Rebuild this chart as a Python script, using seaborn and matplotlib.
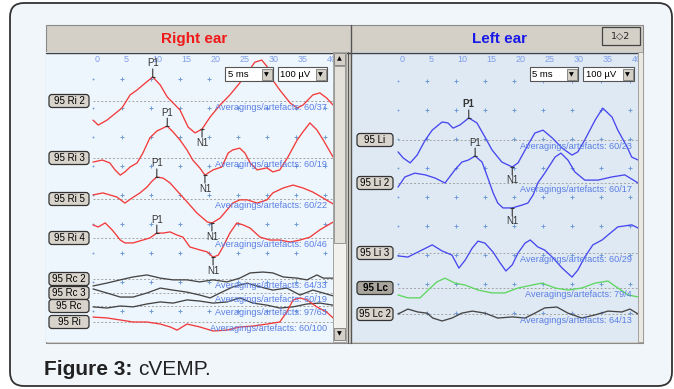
import numpy as np
import matplotlib
matplotlib.use("Agg")
import matplotlib.pyplot as plt
from matplotlib.patches import FancyBboxPatch, Rectangle
import seaborn as sns

sns.set_theme(style="white")
plt.rcParams['font.family'] = ['Liberation Sans', 'DejaVu Sans']

# ------------------------------
# Data: latency (ms) and amplitude (uV)
# ------------------------------
ri2_t = [0, 0.9, 2.4, 5.0, 6.4, 7.6, 8.6, 10.3, 11.6, 12.8, 15.0, 16.4, 17.6, 18.8, 20.2, 21.9, 23.6, 25.3, 26.6, 27.9,
         29.1, 30.2, 31.0, 32.2, 34.0, 35.2, 36.2, 37.9, 39.1, 40.3, 41.4]
ri2_v = [-66, -83, -66, -24, 21, 38, 55, 83, 55, 14, -31, -90, -110, -97, -55, -14, 21, 62, 97, 134,
         141, 114, 72, 38, -7, -24, -14, 21, 28, 10, -14]

ri3_t = [0, 1.6, 2.9, 3.8, 4.7, 5.5, 6.4, 7.6, 8.6, 9.8, 11.0, 12.8, 13.8, 15.0, 16.2, 17.2, 18.4, 19.3, 20.7, 22.2,
         23.3, 24.1, 25.3, 26.2, 27.1, 28.3, 30.0, 31.0, 32.2, 33.6, 35.2, 36.2, 37.4, 38.6, 39.7, 41.4]
ri3_v = [-14, -7, -17, -41, -59, -48, -31, -17, 17, 69, 93, 110, 90, 62, 28, -7, -34, -59, -41, -31,
         17, 28, 34, 17, -17, -41, -34, -48, -41, 3, 62, 90, 121, 97, 62, 3]

ri5_t = [0, 1.7, 2.9, 4.1, 5.5, 6.7, 8.1, 9.3, 10.2, 11.0, 12.1, 13.3, 14.5, 16.4, 17.9, 19.7, 20.5, 21.9, 23.1, 24.1,
         25.3, 26.6, 28.3, 30.0, 31.0, 32.8, 34.5, 36.2, 37.9, 39.7, 41.4]
ri5_v = [14, 21, 14, 7, -14, 3, 21, 41, 62, 76, 72, 55, 28, -14, -48, -79, -83, -66, -38, -14,
         -3, -3, -14, -3, 21, 38, 48, 38, 24, 3, -17]

ri4_t = [0, 0.9, 2.1, 3.3, 4.7, 5.5, 6.9, 8.6, 9.8, 11.0, 12.1, 13.3, 14.5, 15.5, 16.7, 18.4, 19.7, 20.7, 21.6, 22.4,
         23.6, 24.8, 25.9, 27.1, 28.8, 30.5, 32.2, 34.0, 35.7, 37.4, 39.1, 41.4]
ri4_v = [45, 38, 52, 28, -7, -17, -17, -7, 0, 17, 17, 21, 10, 3, -31, -41, -48, -66, -59, -31,
         17, 52, 45, 34, 3, -7, -7, -14, -7, 3, 28, 55]

rc2_t = [0, 2.4, 4.7, 6.9, 9.3, 11.6, 13.8, 16.2, 18.4, 20.7, 23.1, 25.3, 27.1, 29.3, 31.0, 32.8, 35.2, 36.9, 38.6, 39.7, 41.4]
rc2_v = [-24, -14, -3, 7, 14, 3, -3, -3, -10, -3, -10, 3, 21, 24, 21, 7, 3, -3, 14, 3, 3]

rc3_t = [0, 2.4, 4.7, 6.9, 9.3, 11.6, 13.8, 16.2, 18.4, 20.2, 21.9, 24.1, 26.6, 28.8, 31.0, 33.4, 35.7, 37.9, 39.7, 41.4]
rc3_v = [14, 0, -14, -14, 0, 17, 10, 3, -7, -17, 0, 21, 34, 21, 10, 17, -7, 10, 0, -10]

rc_t = [0, 2.4, 4.7, 6.9, 9.3, 11.6, 13.8, 16.2, 18.4, 20.7, 23.1, 25.3, 27.6, 30.0, 32.2, 34.5, 36.9, 39.1, 41.4]
rc_v = [-3, -7, 0, -3, 7, 14, 10, 21, 17, 10, 14, 28, 10, 3, -7, -3, 7, 10, 3]

ri_t = [0, 2.4, 4.7, 6.9, 9.3, 11.6, 13.3, 14.5, 16.2, 18.4, 20.7, 23.1, 25.3, 27.6, 30.0, 32.2, 33.4, 34.5, 35.7, 36.9,
        38.6, 40.3, 41.4]
ri_v = [17, 14, 7, 0, 0, -7, -17, -28, -7, -17, -31, -28, -17, -14, -7, 0, 34, 76, 83, 76, 52, 34, 14]

li_t = [0, 0.9, 2.1, 3.3, 4.7, 5.9, 7.6, 8.6, 9.5, 10.7, 12.2, 13.6, 15.0, 16.2, 17.9, 19.7, 20.7, 22.2, 23.6, 25.0,
        26.6, 28.3, 30.0, 31.0, 32.2, 34.0, 35.3, 36.9, 37.9, 39.5, 40.3, 41.4]
li_v = [-41, -62, -79, -52, 0, 34, 62, 59, 41, 52, 76, 59, 10, -34, -76, -93, -79, -24, 24, 34,
        7, -28, -52, -41, 0, 69, 110, 79, 34, -24, -59, -69]

li2_t = [0, 1.2, 2.9, 4.7, 6.4, 8.1, 9.8, 11.0, 12.1, 13.3, 14.5, 15.5, 16.4, 17.2, 18.1, 19.7, 21.4, 22.4, 23.3, 24.1,
         25.3, 27.1, 28.1, 29.3, 30.5, 32.2, 34.5, 36.9, 39.1, 41.4]
li2_v = [-14, 21, 34, 28, 17, 0, 45, 72, 79, 93, 72, 17, -34, -69, -86, -86, -76, -69, -41, 0,
         34, 90, 103, 79, 38, 10, 10, 21, 28, 0]

li3_t = [0, 1.7, 3.4, 5.9, 7.6, 9.3, 10.5, 11.6, 12.8, 13.8, 15.0, 16.4, 17.6, 18.6, 19.7, 20.7, 21.9, 22.8, 24.1, 25.3,
         26.6, 28.3, 30.0, 31.0, 32.2, 33.6, 35.2, 36.2, 37.9, 40.3, 41.4]
li3_v = [-10, -14, 3, 28, 7, -7, -52, -24, 17, 41, 34, 3, -34, -62, -41, 0, 34, 45, 21, 10,
         -14, -52, -83, -59, -14, 28, 45, 62, 90, 97, 86]

lc_t = [0, 1.7, 3.8, 5.2, 6.7, 8.1, 9.8, 11.6, 13.8, 16.2, 18.4, 20.7, 23.1, 24.8, 27.1, 29.3, 31.7, 34.0, 36.2, 37.9, 39.7, 41.4]
lc_v = [-24, -34, -34, -7, 21, 34, 17, 10, -7, -17, -17, 0, 10, 17, 0, -7, 0, 17, 24, 0, -24, -31]

lc2_t = [0, 1.7, 3.4, 5.0, 6.0, 7.6, 9.3, 11.0, 12.8, 15.0, 17.2, 19.7, 21.9, 23.6, 25.3, 27.4, 29.3, 31.7, 34.0, 36.2,
         38.6, 40.0, 41.4]
lc2_v = [0, 17, 7, 3, -14, -24, -14, 3, 10, 3, -14, -10, -14, 3, 21, 24, 3, -14, -3, 10, 7, 17, 0]

right_names = ["95 Ri 2", "95 Ri 3", "95 Ri 5", "95 Ri 4", "95 Rc 2", "95 Rc 3", "95 Rc", "95 Ri"]
right_avg = ["60/37", "60/19", "60/22", "60/46", "64/33", "60/19", "97/63", "60/100"]
right_p1 = [10.3, 12.8, 11.0, 11.0, None, None, None, None]
right_n1 = [18.8, 19.3, 20.5, 20.7, None, None, None, None]

left_names = ["95 Li", "95 Li 2", "95 Li 3", "95 Lc", "95 Lc 2"]
left_avg = ["60/23", "60/17", "60/29", "79/4", "64/13"]
left_p1 = [12.2, 13.3, None, None, None]
left_n1 = [19.7, 19.7, None, None, None]

time_ticks = [0, 5, 10, 15, 20, 25, 30, 35, 40]

# ------------------------------
# Screen layout (pixels)
# ------------------------------
W, H = 674, 389
TOP, BOT = 52, 342
PX_PER_DIV, UV_PER_DIV, MS_PER_DIV = 29, 100, 5

RED, BLUE, GREEN, DARK = "#f23a3a", "#4747ee", "#5fd65f", "#454545"
TXT_BLUE = "#5a7ee4"
GRAY = "#d4d0c8"


def uv(py):
    return -(py - TOP) * UV_PER_DIV / PX_PER_DIV


def ms(px, zero_px):
    return (px - zero_px) * MS_PER_DIV / PX_PER_DIV


right_ear = dict(x0=46, x1=333, zero=93, rows=[101, 158, 199, 238, 279, 293, 306, 322],
                 grid0=79, box=(49, 40),
                 traces=[(ri2_t, ri2_v, RED), (ri3_t, ri3_v, RED), (ri5_t, ri5_v, RED), (ri4_t, ri4_v, RED),
                         (rc2_t, rc2_v, DARK), (rc3_t, rc3_v, DARK), (rc_t, rc_v, DARK), (ri_t, ri_v, RED)],
                 names=right_names, avg=right_avg, p1=right_p1, n1=right_n1, bg="#eef6fd")
left_ear = dict(x0=352, x1=638, zero=398, rows=[140, 183, 253, 288, 314],
                grid0=81, box=(357, 36),
                traces=[(li_t, li_v, BLUE), (li2_t, li2_v, BLUE), (li3_t, li3_v, BLUE),
                        (lc_t, lc_v, GREEN), (lc2_t, lc2_v, DARK)],
                names=left_names, avg=left_avg, p1=left_p1, n1=left_n1, bg="#dfe9f4")

fig = plt.figure(figsize=(W / 100, H / 100), dpi=100, facecolor="white")


def px_axes(z):
    a = fig.add_axes([0, 0, 1, 1], zorder=z)
    a.set_xlim(0, W)
    a.set_ylim(H, 0)
    a.axis("off")
    a.patch.set_visible(False)
    return a


bg = px_axes(0)
bg.add_patch(FancyBboxPatch((10, 3), 662, 383, boxstyle="round,pad=0,rounding_size=14",
                            fc="#f1f6fb", ec="#333333", lw=1.3))
bg.add_patch(Rectangle((46, 25), 597, 318, fc=GRAY, ec="#8a8a8a", lw=0.8))
bg.add_patch(Rectangle((46, 52), 287, 290, fc=right_ear["bg"], lw=0))
bg.add_patch(Rectangle((352, 52), 286, 290, fc=left_ear["bg"], lw=0))
bg.plot([46, 643], [52.5, 52.5], color="#404040", lw=1)
bg.plot([347.5, 347.5], [52, 343], color="#555555", lw=0.8)
bg.plot([351, 351], [25, 343], color="#555555", lw=1)


def draw_panel(p):
    ax = fig.add_axes([p["x0"] / W, 1 - BOT / H, (p["x1"] - p["x0"]) / W, (BOT - TOP) / H], zorder=1)
    ax.patch.set_visible(False)
    ax.axis("off")
    ax.set_xlim(ms(p["x0"], p["zero"]), ms(p["x1"], p["zero"]))
    ax.set_ylim(uv(BOT), uv(TOP))

    # "+" grid, every 5 ms and 100 uV
    rows = uv(p["grid0"]) - UV_PER_DIV * np.arange(9)
    for t in time_ticks:
        mk, sz = ("+", 3.4) if t > 0 else (".", 1.3)
        ax.plot([t] * len(rows), rows, ls="none", marker=mk, ms=sz, mew=0.7, color="#6f9bd6")
        ax.text(t + 0.25, uv(60), str(t), ha="left", va="center", fontsize=6.5, color="#7f9ee8", clip_on=True)

    t_end = ms(p["x1"], p["zero"])
    for i, (t, v, c) in enumerate(p["traces"]):
        b = uv(p["rows"][i])
        ax.plot([0, t_end], [b, b], ls=(0, (2, 2)), color="#a3a3a3", lw=0.7)
        sns.lineplot(x=np.array(t), y=np.array(v) + b, ax=ax, color=c, lw=0.95, estimator=None, sort=False)
        ax.text(40.3, b - 21, "Averagings/artefacts: " + p["avg"][i], ha="right", va="center",
                fontsize=6.6, color=TXT_BLUE)
        for lat, lab, sgn in ((p["p1"][i], "P1", 1), (p["n1"][i], "N1", -1)):
            if lat is None:
                continue
            y = np.interp(lat, t, v) + b
            ax.annotate("", xy=(lat, y), xytext=(0, 8 * sgn), textcoords="offset pixels",
                        arrowprops=dict(arrowstyle="-", color="#333333", lw=0.8, shrinkA=0, shrinkB=0))
            ax.plot([lat], [y], marker="_", ms=3.5, mew=0.8, color="#333333")
            bold = "bold" if (p is left_ear and i == 0 and lab == "P1") else "normal"
            ax.annotate(lab, xy=(lat, y), xytext=(0, 13.5 * sgn), textcoords="offset pixels",
                        ha="center", va="center", fontsize=7, color="#333333", fontweight=bold)
    return ax


draw_panel(right_ear)
draw_panel(left_ear)

ov = px_axes(3)

# channel name boxes
for p in (right_ear, left_ear):
    bx, bw = p["box"]
    for name, row in zip(p["names"], p["rows"]):
        hl = name == "95 Lc"
        ov.add_patch(FancyBboxPatch((bx, row - 6.5), bw, 13, boxstyle="round,pad=0,rounding_size=3",
                                    fc="#aaa69e" if hl else "#d8d4cc", ec="#333333", lw=0.9))
        ov.text(bx + bw / 2, row + 0.3, name, ha="center", va="center", fontsize=7,
                color="black", fontweight="bold" if hl else "normal")

# time base / sensitivity selectors
for x0, x1, label in ((225, 273, "5 ms"), (278, 327, "100 µV"), (530, 578, "5 ms"), (583, 634, "100 µV")):
    ov.add_patch(Rectangle((x0, 67), x1 - x0, 14, fc="white", ec="#555555", lw=0.8))
    ov.add_patch(Rectangle((x1 - 11.5, 68.5), 10, 11, fc=GRAY, ec="#7a7a7a", lw=0.6))
    ov.text(x1 - 6.5, 74.3, "▼", ha="center", va="center", fontsize=4.5, color="black", family="DejaVu Sans")
    ov.text(x0 + 2.5, 74.3, label, ha="left", va="center", fontsize=6.8, color="black")

# scroll bars
ov.add_patch(Rectangle((333, 52), 13, 290, fc="#f2f1ee", ec="#9a9a9a", lw=0.6))
ov.add_patch(Rectangle((334, 66), 11, 177, fc="#e4e1db", ec="#8c8c8c", lw=0.6))
for y0, arrow in ((53, "▲"), (328, "▼")):
    ov.add_patch(Rectangle((334, y0), 11, 12, fc=GRAY, ec="#7a7a7a", lw=0.6))
    ov.text(339.5, y0 + 6, arrow, ha="center", va="center", fontsize=4.5, color="black", family="DejaVu Sans")
ov.add_patch(Rectangle((638, 52), 5, 290, fc="#ebe8e2", ec="#9a9a9a", lw=0.6))

# headers
ov.text(194, 38.5, "Right ear", ha="center", va="center", fontsize=11, fontweight="bold", color="#f01818")
ov.text(500, 38.5, "Left ear", ha="center", va="center", fontsize=11, fontweight="bold", color="#1a1ae8")
ov.add_patch(Rectangle((602, 27), 38, 18, fc=GRAY, ec="#444444", lw=0.9))
ov.text(621, 36, "1◇2", ha="center", va="center", fontsize=6.8, color="#222222", family=["DejaVu Sans"])

# caption
cap = ov.text(44, 375, "Figure 3:", ha="left", va="baseline", fontsize=15, fontweight="bold", color="#222222")
fig.canvas.draw()
bb = cap.get_window_extent()
x_end = ov.transData.inverted().transform((bb.x1, bb.y0))[0]
ov.text(x_end + 6, 375, "cVEMP.", ha="left", va="baseline", fontsize=15, color="#222222")

fig.savefig("out.png", dpi=100, facecolor="white")
